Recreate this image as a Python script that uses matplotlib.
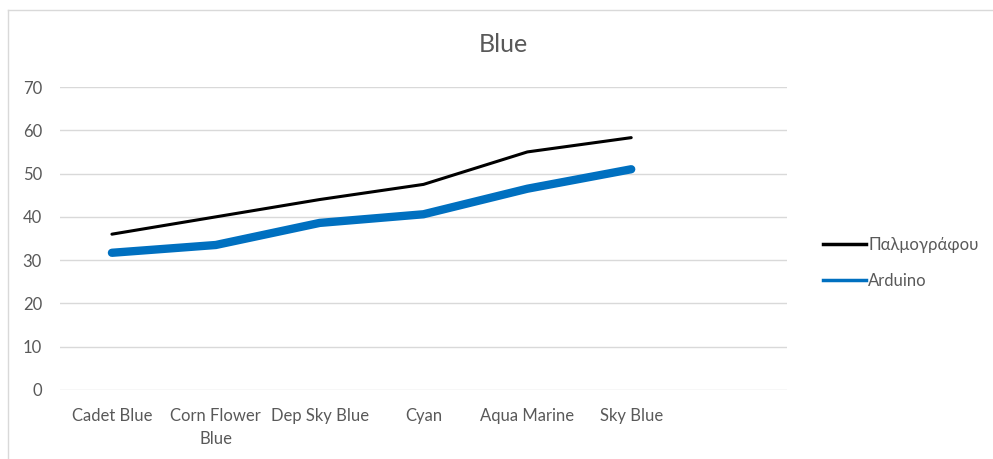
import matplotlib.pyplot as plt
from matplotlib.lines import Line2D

plt.rcParams['font.family'] = ['Lato', 'Noto Sans', 'DejaVu Sans']

categories = ["Cadet Blue", "Corn Flower\nBlue", "Dep Sky Blue", "Cyan", "Aqua Marine", "Sky Blue", ""]
palmografou = [36, 40, 44, 47.5, 55, 58.3]
arduino = [31.7, 33.5, 38.6, 40.6, 46.5, 51]
yticks = [0, 10, 20, 30, 40, 50, 60, 70]

text_color = "#595959"
grid_color = "#d9d9d9"

fig = plt.figure(figsize=(9.93, 4.59), dpi=100)
ax = fig.add_axes([60 / 993, 1 - 390 / 459, 727 / 993, 303 / 459])

x = list(range(len(palmografou)))
ax.plot(x, palmografou, color="black", linewidth=2.2, label="Παλμογράφου",
        solid_capstyle="round", solid_joinstyle="round")
ax.plot(x, arduino, color="#0070c0", linewidth=6, label="Arduino",
        solid_capstyle="round", solid_joinstyle="round")

ax.set_xlim(-0.5, len(categories) - 0.5)
ax.set_ylim(0, 70)
ax.set_yticks(yticks)
ax.set_xticks(range(len(categories)))
ax.set_xticklabels(categories, fontsize=12, color=text_color, linespacing=1.5)
ax.set_yticklabels([str(v) for v in yticks], fontsize=12, color=text_color)
ax.tick_params(length=0)
ax.tick_params(axis="y", pad=13)
ax.tick_params(axis="x", pad=13)
ax.grid(axis="y", color=grid_color, linewidth=1)
ax.set_axisbelow(True)
for s in ["top", "right", "left", "bottom"]:
    ax.spines[s].set_visible(False)

fig.text(503 / 993, 1 - 45 / 459, "Blue", ha="center", va="center",
         fontsize=18, color=text_color)

handles = [Line2D([], [], color="black", linewidth=2.5),
           Line2D([], [], color="#0070c0", linewidth=2.5)]
fig.legend(handles, ["Παλμογράφου", "Arduino"], loc="center left",
           bbox_to_anchor=(808 / 993, 1 - 263 / 459), frameon=False,
           fontsize=12, labelcolor=text_color, handlelength=2.6,
           handletextpad=0.1, labelspacing=1.2)

# chart border
fig.add_artist(Line2D([8 / 993, 8 / 993], [0, 1 - 10 / 459], color=grid_color,
                      linewidth=1, transform=fig.transFigure))
fig.add_artist(Line2D([8 / 993, 1], [1 - 10 / 459, 1 - 10 / 459], color=grid_color,
                      linewidth=1, transform=fig.transFigure))

fig.savefig("out.png", dpi=100)
